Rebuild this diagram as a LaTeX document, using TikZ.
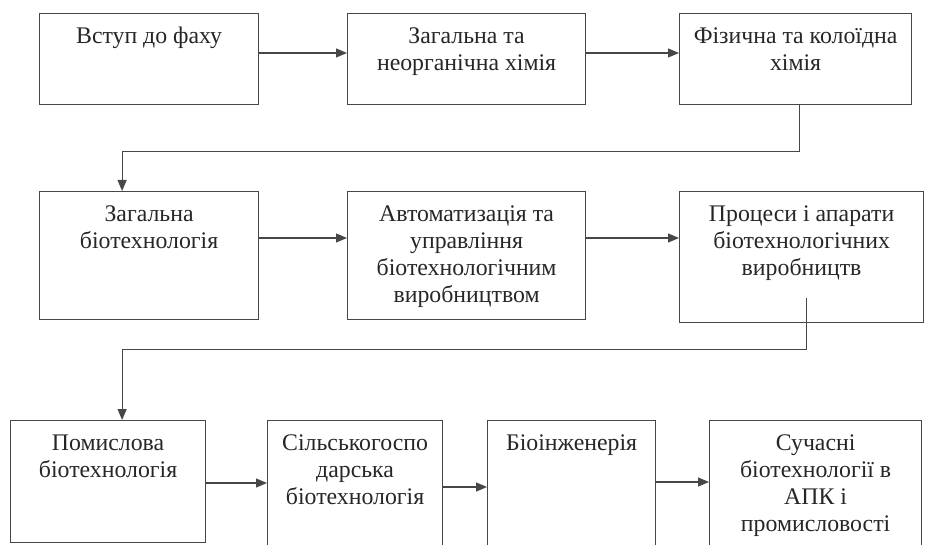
\documentclass[tikz,border=0pt]{standalone}
\usepackage{fontspec}
\setmainfont{Liberation Serif}
\usetikzlibrary{arrows.meta,positioning}
\tikzset{
  unit/.style={rectangle, draw=black!72, line width=1.2pt, inner sep=0pt, anchor=north west},
  lbl/.style ={align=center, inner sep=0pt, text=black!85,
               font=\fontsize{23.8}{26.7}\selectfont},
  ar/.style  ={-{Triangle[length=11pt,width=9pt]}, line width=1.2pt, draw=black!72},
}

\begin{document}
\begin{tikzpicture}[x=1pt, y=-1pt]
\useasboundingbox (0,0) rectangle (928,545);
\clip (0,0) rectangle (928,545);

% first row
\node[unit, minimum width=219pt, minimum height=91pt] (intro) at (39,13) {};
\node[unit, minimum width=238pt, minimum height=91pt] (gen) at (347,13) {};
\node[unit, minimum width=232pt, minimum height=91pt] (phys) at (679,13) {};

% second row
\node[unit, minimum width=219pt, minimum height=128pt] (genbio) at (39,191) {};
\node[unit, minimum width=238pt, minimum height=128pt] (auto) at (347,191) {};
\node[unit, minimum width=244pt, minimum height=131pt] (proc) at (679,191) {};

% third row (cut by the page edge)
\node[unit, minimum width=195pt, minimum height=122pt] (ind) at (10,420) {};
\node[unit, minimum width=175pt, minimum height=150pt] (agro) at (267,420) {};
\node[unit, minimum width=168pt, minimum height=150pt] (bioeng) at (487,420) {};
\node[unit, minimum width=212pt, minimum height=150pt] (modern) at (709,420) {};

% texts
\node[lbl, below=14pt of intro.north] (intro-t) {Вступ до фаху};
\node[lbl, below=15pt of gen.north] (gen-t) {Загальна та\\неорганічна хімія};
\node[lbl, below=15pt of phys.north] (phys-t) {Фізична та колоїдна\\хімія};
\node[lbl, below=15pt of genbio.north] (genbio-t) {Загальна\\біотехнологія};
\node[lbl, below=15pt of auto.north] (auto-t) {Автоматизація та\\управління\\біотехнологічним\\виробництвом};
\node[lbl, below=15pt of proc.north] (proc-t) {Процеси і апарати\\біотехнологічних\\виробництв};
\node[lbl, below=15pt of ind.north] (ind-t) {Помислова\\біотехнологія};
\node[lbl, below=15pt of agro.north] (agro-t) {Сільськогоспо\\дарська\\біотехнологія};
\node[lbl, below=15pt of bioeng.north] (bioeng-t) {Біоінженерія};
\node[lbl, below=15pt of modern.north] (modern-t) {Сучасні\\біотехнології в\\АПК і\\промисловості};

% arrows
\draw[ar] ([yshift=-40pt]intro.north east) -- ([yshift=-40pt]gen.north west);
\draw[ar] ([yshift=-40pt]gen.north east) -- ([yshift=-40pt]phys.north west);
\draw[ar] ([xshift=4pt]phys.south) -- ++(0,46) -| ([xshift=-27pt]genbio.north);
\draw[ar] ([yshift=-47pt]genbio.north east) -- ([yshift=-47pt]auto.north west);
\draw[ar] ([yshift=-47pt]auto.north east) -- ([yshift=-47pt]proc.north west);
\draw[ar] ([shift={(5pt,25pt)}]proc.south) -- ++(0,51) -| ([xshift=14pt]ind.north);
\draw[ar] ([yshift=-63pt]ind.north east) -- ([yshift=-63pt]agro.north west);
\draw[ar] ([yshift=-67pt]agro.north east) -- ([yshift=-67pt]bioeng.north west);
\draw[ar] ([yshift=-62pt]bioeng.north east) -- ([yshift=-62pt]modern.north west);
\end{tikzpicture}
\end{document}
